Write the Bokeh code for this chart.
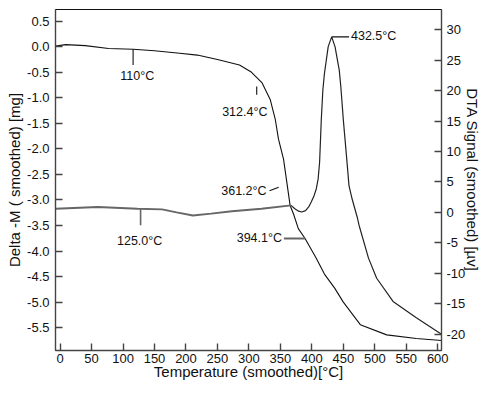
from bokeh.plotting import figure
from bokeh.models import Range1d, LinearAxis, FixedTicker, PrintfTickFormatter, Label
from bokeh.embed import file_html
from bokeh.resources import INLINE

# ---- data ----
tg_temp = [-7, 9, 40, 77, 116, 150, 190, 218, 250, 285, 303, 321, 334, 342, 347, 355, 358,
           365.5, 371, 378.5, 389, 407, 420, 436, 450, 477, 519, 566, 606]
tg_mass = [0.01, 0.04, 0.02, -0.035, -0.05, -0.08, -0.13, -0.165, -0.25, -0.36, -0.49, -0.71,
           -1.04, -1.43, -1.81, -2.2, -2.46, -3.11, -3.28, -3.56, -3.75, -4.14, -4.45, -4.72,
           -5.0, -5.44, -5.64, -5.71, -5.75]

dta_temp = [-7, 60, 123, 162, 185, 211, 240, 273, 320, 367, 373, 379, 384, 390, 395, 399, 403,
            407, 410, 412.3, 415, 417.5, 420, 426, 431.5, 436.8, 443.5, 446, 450, 455.5, 459,
            464, 472, 475, 490, 503, 529, 566, 606]
dta_signal = [0.6, 0.9, 0.6, 0.5, 0.0, -0.5, -0.2, 0.2, 0.6, 1.15, 0.6, 0.2, 0.07, 0.3, 0.9,
              1.7, 2.6, 3.85, 5.5, 8.2, 15.2, 20.1, 22.8, 27.2, 28.8, 27.2, 23.4, 20.7, 15.2,
              8.7, 4.4, 2.2, -0.75, -2.1, -7.5, -10.8, -14.6, -17.3, -20.0]

x_ticks = list(range(0, 601, 50))
left_ticks = [0.5, 0.0, -0.5, -1.0, -1.5, -2.0, -2.5, -3.0, -3.5, -4.0, -4.5, -5.0, -5.5]
right_ticks = [-20, -15, -10, -5, 0, 5, 10, 15, 20, 25, 30]

FONT = "Liberation Sans"

p = figure(width=484, height=382, output_backend="svg", toolbar_location=None,
           x_range=Range1d(-7.3, 606), y_range=Range1d(-5.946, 0.727),
           min_border_left=55, min_border_right=30, min_border_top=9, min_border_bottom=30)
p.extra_y_ranges = {"dta": Range1d(-22.66, 33.3)}
p.xgrid.visible = False
p.ygrid.visible = False
p.outline_line_color = "#111111"
p.outline_line_width = 1
p.background_fill_color = "white"
p.border_fill_color = "white"

right_axis = LinearAxis(y_range_name="dta")
p.add_layout(right_axis, "right")

for ax in [p.xaxis[0], p.yaxis[0], right_axis]:
    ax.major_tick_in = 7
    ax.major_tick_out = 0
    ax.minor_tick_in = 0
    ax.minor_tick_out = 0
    ax.axis_line_color = "#444444"
    ax.axis_line_width = 1.4
    ax.major_tick_line_color = "#444444"
    ax.major_tick_line_width = 1.4
    ax.major_label_text_font = FONT
    ax.major_label_text_font_size = "13px"
    ax.major_label_text_color = "#111111"
    ax.axis_label_text_font = FONT
    ax.axis_label_text_font_size = "15px"
    ax.axis_label_text_font_style = "normal"
    ax.axis_label_text_color = "#111111"

p.xaxis[0].major_label_standoff = 3
p.xaxis[0].axis_label_standoff = -3
p.yaxis[0].major_label_standoff = 6
p.yaxis[0].axis_label_standoff = 1
right_axis.major_label_standoff = 5
right_axis.axis_label_standoff = -4

p.xaxis[0].ticker = FixedTicker(ticks=x_ticks)
p.yaxis[0].ticker = FixedTicker(ticks=left_ticks)
p.yaxis[0].formatter = PrintfTickFormatter(format="%.1f")
right_axis.ticker = FixedTicker(ticks=right_ticks)
right_axis.formatter = PrintfTickFormatter(format="%d")
p.xaxis[0].axis_label = "Temperature (smoothed)[°C]"
p.yaxis[0].axis_label = "Delta -M ( smoothed) [mg]"
right_axis.axis_label = "DTA Signal (smoothed) [µv]"

# curves
p.line(tg_temp, tg_mass, line_color="#111111", line_width=1.1)
split = dta_temp.index(367) + 1
p.line(dta_temp[:split], dta_signal[:split], line_color="#666666", line_width=1.9,
       y_range_name="dta")
p.line(dta_temp[split - 1:], dta_signal[split - 1:], line_color="#222222", line_width=1.2,
       y_range_name="dta")

# annotation connectors
p.segment(x0=[116, 312.4, 332.8], y0=[-0.05, -0.78, -2.82],
          x1=[116, 312.4, 347.3], y1=[-0.36, -0.94, -2.75],
          line_color="#111111", line_width=1.1)
p.segment(x0=[355.6], y0=[-3.754], x1=[389], y1=[-3.754], line_color="#666666", line_width=1.9)
p.segment(x0=[127.9], y0=[0.5], x1=[127.9], y1=[-2.1], line_color="#666666", line_width=1.6,
          y_range_name="dta")
p.segment(x0=[431.5], y0=[28.8], x1=[459.1], y1=[28.8], line_color="#111111", line_width=1.1,
          y_range_name="dta")

def lab(x, y, text, align, rng="default"):
    p.add_layout(Label(x=x, y=y, text=text, text_align=align, text_baseline="middle",
                       text_font=FONT, text_font_size="12.5px", text_color="#111111",
                       y_range_name=rng))

lab(122.6, -0.572, "110°C", "center")
lab(329.5, -1.284, "312.4°C", "right")
lab(328, -2.817, "361.2°C", "right")
lab(352.6, -3.754, "394.1°C", "right")
lab(126.4, -4.72, "125.0°C", "center", "dta")
lab(462.2, 28.9, "432.5°C", "left", "dta")

open("out.html", "w").write(file_html(p, INLINE))
